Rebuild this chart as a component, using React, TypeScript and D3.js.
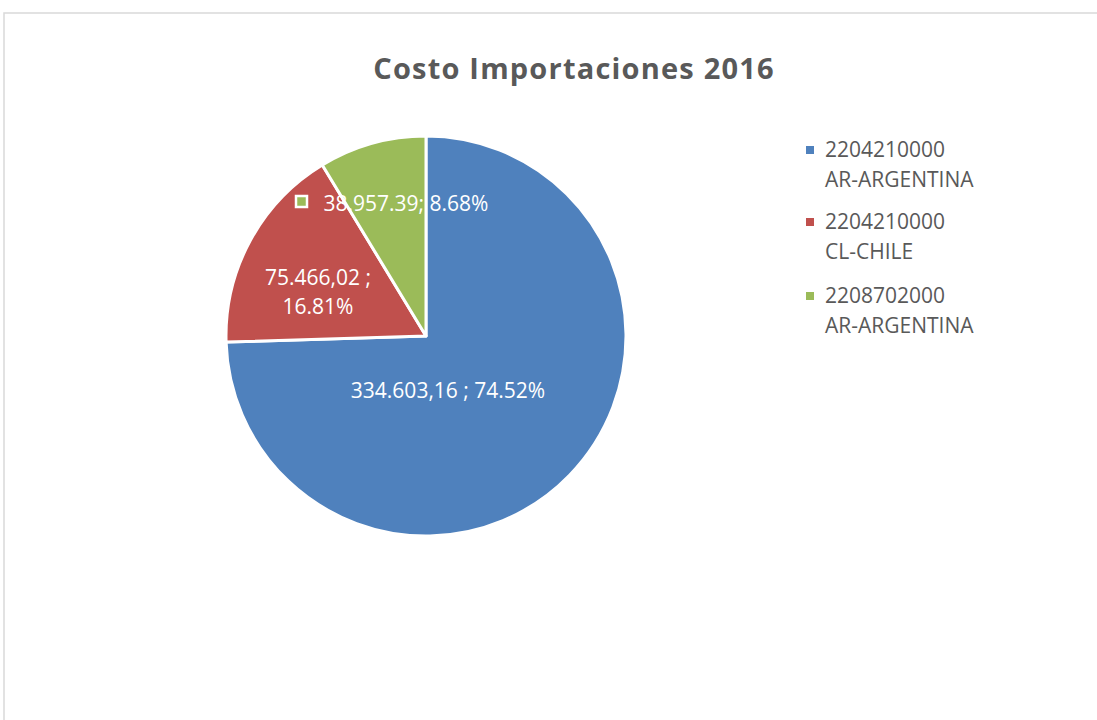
import React from "react";
import * as d3 from "d3";

const categories = ["2204210000 AR-ARGENTINA", "2204210000 CL-CHILE", "2208702000 AR-ARGENTINA"];
const legendLines = [["2204210000", "AR-ARGENTINA"], ["2204210000", "CL-CHILE"], ["2208702000", "AR-ARGENTINA"]];
const values = [334603.16, 75466.02, 38957.39];
const valueLabels = [["334.603,16 ; 74.52%"], ["75.466,02 ;", "16.81%"], ["38.957.39; 8.68%"]];
const colors = ["#4F81BD", "#C0504D", "#9BBB59"];

const W = 1097, H = 720;
const cx = 426, cy = 336, R = 200;
const font = "'Open Sans', sans-serif";

export default function App() {
  const pie = d3.pie<number>().sort(null).value((d) => d)(values);
  const arc = d3.arc<d3.PieArcDatum<number>>().innerRadius(0).outerRadius(R);
  const labelPos: [number, number][] = [[448, 391], [318, 278], [406, 204]];
  const legendY = [150, 222, 296];
  return (
    <svg width={W} height={H} style={{ position: "absolute", left: 0, top: 0 }}>
      <rect x={0} y={0} width={W} height={H} fill="#fff" />
      <rect x={4} y={13} width={W + 10} height={H + 10} fill="none" stroke="#d9d9d9" strokeWidth={1.5} />
      <text x={574} y={79} textAnchor="middle" fontFamily={font} fontWeight="bold" fontSize={29} letterSpacing={1.2} fill="#595959">
        Costo Importaciones 2016
      </text>
      <g transform={`translate(${cx},${cy})`}>
        {pie.map((p, i) => (
          <path key={i} d={arc(p) || ""} fill={colors[i]} stroke="#fff" strokeWidth={3} strokeLinejoin="round" />
        ))}
      </g>
      {valueLabels.map((lines, i) => (
        <text key={i} x={labelPos[i][0]} y={labelPos[i][1]} textAnchor="middle" fontFamily={font} fontSize={21} fill="#fff">
          {lines.map((l, j) => (
            <tspan key={j} x={labelPos[i][0]} dy={j === 0 ? "0.35em" : 29}>{l}</tspan>
          ))}
        </text>
      ))}
      <rect x={296} y={196} width={11} height={11} fill={colors[2]} stroke="#fff" strokeWidth={2.5} />
      {categories.map((c, i) => (
        <g key={c}>
          <rect x={806} y={legendY[i] - 4} width={8} height={8} fill={colors[i]} />
          <text fontFamily={font} fontSize={21} fill="#595959">
            <tspan x={825} y={legendY[i]} dy="0.35em">{legendLines[i][0]}</tspan>
            <tspan x={825} y={legendY[i] + 30} dy="0.35em">{legendLines[i][1]}</tspan>
          </text>
        </g>
      ))}
    </svg>
  );
}
